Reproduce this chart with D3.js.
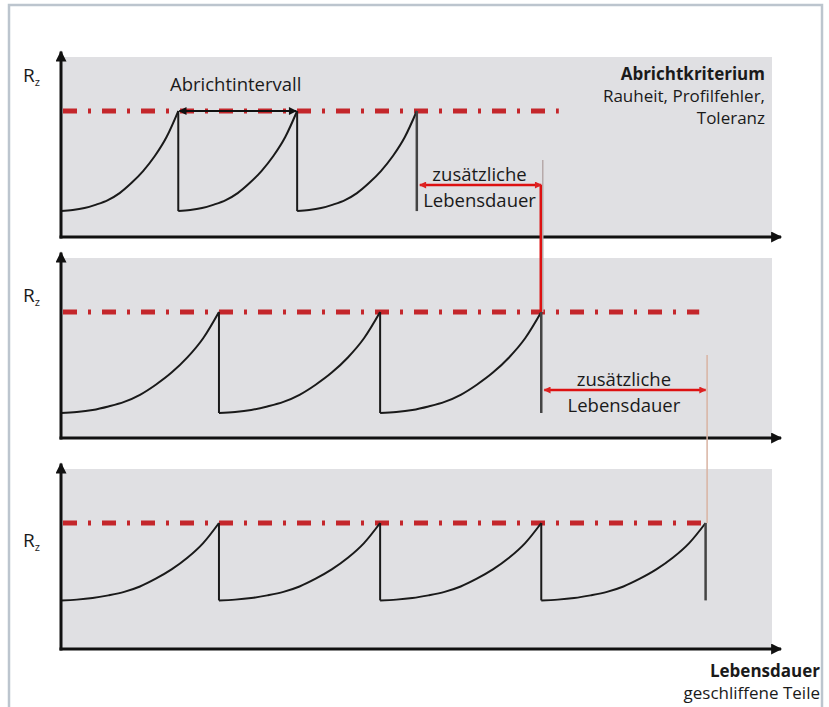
<!DOCTYPE html>
<html>
<head>
<meta charset="utf-8">
<script src="https://cdn.jsdelivr.net/npm/d3@7"></script>
<style>
  body { margin: 0; background: #fff; }
  text { font-family: 'Open Sans', 'Noto Sans', sans-serif; fill: #1a1a1a; }
</style>
</head>
<body>
<script>
// Abrichtzyklen in drei Varianten (x in Intervall-Einheiten, y = Rz)
const dressPoints = [
  [0.735, 1.48, 2.23],
  [0.99, 2.0, 3.01],
  [0.99, 2.0, 3.01, 4.04]
]
const startRz = [1.44, 1.39, 2.7]
const limitRz = 7.0
const limitEnd = [3.12, 4.0, 4.05]

// Form des Anstiegs innerhalb eines Intervalls
const shapeT = [0, 0.1, 0.2, 0.3, 0.4, 0.5, 0.6, 0.7, 0.8, 0.9, 1]
const shapeRise = [0, 0.01, 0.03, 0.065, 0.11, 0.18, 0.28, 0.4, 0.55, 0.74, 1]

const width = 829,
      height = 707,
      panelH = 180,
      axisY = [237, 438, 649],
      fs = 18.5

const limitColor = '#c4262b'

let svg = d3.select('body')
  .append('svg')
  .attr('width', width)
  .attr('height', height)

// Rahmen
svg.append('rect')
  .attr('x', 9).attr('y', 5)
  .attr('width', 813).attr('height', 720)
  .attr('fill', 'none')
  .attr('stroke', '#bcc5ce')
  .attr('stroke-width', 2.5)

let defs = svg.append('defs')
let marker = (id, color, w, h) => {
  defs.append('marker')
    .attr('id', id)
    .attr('viewBox', '0 0 10 10')
    .attr('refX', 9).attr('refY', 5)
    .attr('markerWidth', w).attr('markerHeight', h)
    .attr('markerUnits', 'userSpaceOnUse')
    .attr('orient', 'auto-start-reverse')
    .append('path')
    .attr('d', 'M0,0 L10,5 L0,10 Z')
    .attr('fill', color)
}
marker('axisArrow', '#111', 12, 11)
marker('blackArrow', '#111', 9, 8)
marker('redArrow', '#d22', 8, 7)

let x = d3.scaleLinear()
  .domain([0, 4.5])
  .range([61, 779])

let line = d3.line()
  .x(d => d[0])
  .y(d => d[1])
  .curve(d3.curveMonotoneX)

dressPoints.forEach((dp, p) => {
  let y = d3.scaleLinear()
    .domain([0, 10])
    .range([axisY[p], axisY[p] - panelH])
  let g = svg.append('g')

  g.append('rect')
    .attr('x', x(0))
    .attr('y', y(10))
    .attr('width', 772 - x(0))
    .attr('height', panelH)
    .attr('fill', '#e0e0e3')

  // Grenzwert (Abrichtkriterium)
  g.append('line')
    .attr('x1', x(0) + 2).attr('x2', x(limitEnd[p]))
    .attr('y1', y(limitRz)).attr('y2', y(limitRz))
    .attr('stroke', limitColor)
    .attr('stroke-width', 5)
    .attr('stroke-dasharray', '14,11,3,11')

  // Rauheitsverlauf
  dp.forEach((end, i) => {
    let start = i === 0 ? 0 : dp[i - 1]
    let pts = shapeT.map((t, k) => [
      x(start + t * (end - start)),
      y(startRz[p] + shapeRise[k] * (limitRz - startRz[p]))
    ])
    g.append('path')
      .attr('d', line(pts))
      .attr('fill', 'none')
      .attr('stroke', '#1a1a1a')
      .attr('stroke-width', 2)
    g.append('line')
      .attr('x1', x(end)).attr('x2', x(end))
      .attr('y1', y(limitRz)).attr('y2', y(startRz[p]))
      .attr('stroke', i === dp.length - 1 ? '#444' : '#1a1a1a')
      .attr('stroke-width', i === dp.length - 1 ? 2.5 : 2)
  })

  // Achsen
  g.append('line')
    .attr('x1', x(0)).attr('x2', x(0))
    .attr('y1', axisY[p] + 1.5).attr('y2', y(10.3))
    .attr('stroke', '#111').attr('stroke-width', 3)
    .attr('marker-end', 'url(#axisArrow)')
  g.append('line')
    .attr('x1', x(0) - 1.5).attr('x2', 781)
    .attr('y1', axisY[p]).attr('y2', axisY[p])
    .attr('stroke', '#111').attr('stroke-width', 3)
    .attr('marker-end', 'url(#axisArrow)')

  let rz = g.append('text')
    .attr('x', 23)
    .attr('y', [82, 302, 547][p])
    .attr('font-size', 19)
  rz.append('tspan').text('R')
  rz.append('tspan').attr('dy', 4).attr('font-size', 11).text('z')
})

let yOf = (p, v) => axisY[p] - v / 10 * panelH

// Abrichtintervall
svg.append('line')
  .attr('x1', x(dressPoints[0][0]) + 1).attr('x2', x(dressPoints[0][1]) - 1)
  .attr('y1', yOf(0, limitRz)).attr('y2', yOf(0, limitRz))
  .attr('stroke', '#111').attr('stroke-width', 2)
  .attr('marker-start', 'url(#blackArrow)')
  .attr('marker-end', 'url(#blackArrow)')
svg.append('text')
  .attr('x', (x(dressPoints[0][0]) + x(dressPoints[0][1])) / 2 - 2)
  .attr('y', 91)
  .attr('text-anchor', 'middle')
  .attr('font-size', fs)
  .text('Abrichtintervall')

// Zusätzliche Lebensdauer zwischen den Varianten
let extra = [
  { from: 0, to: 1, arrowY: 185, lineTop: 160 },
  { from: 1, to: 2, arrowY: 390, lineTop: 355 }
]
extra.forEach((e, k) => {
  let x1 = x(d3.max(dressPoints[e.from])) + 1
  let x2 = x(d3.max(dressPoints[e.to]))
  svg.append('line')
    .attr('x1', x2 + 1.5).attr('x2', x2 + 1.5)
    .attr('y1', e.lineTop).attr('y2', yOf(e.to, limitRz))
    .attr('stroke', k === 0 ? '#b7a9a9' : '#d9b3a3')
    .attr('stroke-width', 1.5)
  if (k === 0) {
    svg.append('line')
      .attr('x1', x2 - 0.5).attr('x2', x2 - 0.5)
      .attr('y1', e.arrowY).attr('y2', yOf(e.to, limitRz))
      .attr('stroke', '#d11').attr('stroke-width', 2.5)
  }
  svg.append('line')
    .attr('x1', x1 + 2).attr('x2', x2)
    .attr('y1', e.arrowY).attr('y2', e.arrowY)
    .attr('stroke', '#d11').attr('stroke-width', 2.5)
    .attr('marker-start', 'url(#redArrow)')
    .attr('marker-end', 'url(#redArrow)')
  let cx = (x1 + x2) / 2
  svg.append('text')
    .attr('x', cx).attr('y', e.arrowY - 4)
    .attr('text-anchor', 'middle').attr('font-size', fs)
    .text('zusätzliche')
  svg.append('text')
    .attr('x', cx).attr('y', e.arrowY + 22)
    .attr('text-anchor', 'middle').attr('font-size', fs)
    .text('Lebensdauer')
})

// Beschriftungen rechts
let rightText = (lines, x0, y0) => {
  lines.forEach((l, i) => {
    svg.append('text')
      .attr('x', x0).attr('y', y0 + i * 22)
      .attr('text-anchor', 'end')
      .attr('font-size', 17)
      .attr('font-weight', l.bold ? 'bold' : 'normal')
      .text(l.text)
  })
}
rightText([
  { text: 'Abrichtkriterium', bold: true },
  { text: 'Rauheit, Profilfehler,' },
  { text: 'Toleranz' }
], 765, 80)
rightText([
  { text: 'Lebensdauer', bold: true },
  { text: 'geschliffene Teile' }
], 820, 677)
</script>
</body>
</html>
